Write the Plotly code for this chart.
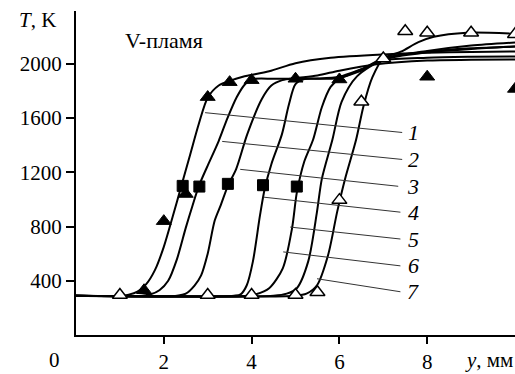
import plotly.graph_objects as go

# ---- curves (calculated temperature profiles) ----
c1_x = [0, 1.0, 1.2, 1.4, 1.6, 1.8, 2.0, 2.2, 2.4, 2.6, 2.8, 3.0, 3.25, 3.5, 3.8, 4.4, 5.0, 5.8, 7.0, 8.0, 9.0, 10.0]
c1_T = [290, 290, 298, 320, 375, 480, 650, 870, 1100, 1330, 1560, 1750, 1840, 1875, 1905, 1945, 2005, 2045, 2070, 2082, 2088, 2092]

c2_x = [0, 1.5, 1.7, 1.9, 2.1, 2.3, 2.5, 2.65, 2.8, 3.0, 3.25, 3.45, 3.66, 3.85, 4.0, 4.5, 5.0, 5.5, 6.0, 6.5, 7.0, 8.0, 9.0, 10.0]
c2_T = [290, 290, 300, 330, 400, 560, 790, 950, 1100, 1250, 1431, 1600, 1754, 1850, 1886, 1890, 1890, 1892, 1905, 1960, 2025, 2045, 2052, 2055]

c3_x = [0, 2.3, 2.5, 2.7, 2.85, 3.0, 3.16, 3.3, 3.46, 3.65, 3.9, 4.23, 4.45, 4.7, 5.0, 5.5, 6.0, 6.8, 8.0, 9.0, 10.0]
c3_T = [290, 290, 305, 365, 440, 600, 844, 960, 1100, 1226, 1480, 1739, 1840, 1880, 1895, 1915, 1950, 1995, 2025, 2030, 2033]

c4_x = [0, 3.6, 3.75, 3.89, 4.03, 4.19, 4.3, 4.45, 4.69, 4.85, 5.0, 5.2, 5.6, 6.0, 6.5, 7.0, 8.0, 9.0, 10.0]
c4_T = [290, 290, 300, 367, 543, 880, 1080, 1260, 1480, 1700, 1850, 1888, 1890, 1895, 1960, 2040, 2090, 2115, 2128]

c5_x = [0, 3.9, 4.1, 4.4, 4.71, 4.92, 5.03, 5.2, 5.4, 5.6, 5.8, 6.0, 6.5, 7.0, 8.0, 9.0, 10.0]
c5_T = [290, 290, 300, 345, 492, 785, 1050, 1280, 1440, 1680, 1830, 1890, 1950, 2040, 2095, 2135, 2158]

c6_x = [0, 4.5, 4.8, 5.03, 5.29, 5.49, 5.6, 5.84, 6.05, 6.4, 7.0, 8.0, 9.0, 10.0]
c6_T = [290, 290, 305, 345, 543, 910, 1152, 1440, 1720, 1908, 2030, 2085, 2110, 2128]

c7_x = [0, 5.0, 5.25, 5.49, 5.74, 5.95, 6.13, 6.38, 6.55, 6.75, 7.0, 7.4, 7.8, 8.15, 8.9, 10.0]
c7_T = [290, 290, 305, 367, 587, 910, 1152, 1440, 1690, 1900, 2040, 2090, 2160, 2200, 2230, 2222]

curves = [(c1_x, c1_T), (c2_x, c2_T), (c3_x, c3_T), (c4_x, c4_T),
          (c5_x, c5_T), (c6_x, c6_T), (c7_x, c7_T)]

# ---- experimental points ----
tri_fill_x = [1.55, 2.0, 2.5, 3.0, 3.5, 4.0, 5.0, 6.0, 8.0, 10.0]
tri_fill_T = [330, 840, 1040, 1755, 1865, 1880, 1890, 1885, 1905, 1815]

sq_x = [2.43, 2.81, 3.46, 4.26, 5.03]
sq_T = [1100, 1095, 1115, 1105, 1095]

tri_open_x = [1.0, 3.0, 4.0, 5.0, 5.5, 6.0, 6.5, 7.0, 7.5, 8.0, 9.0, 10.0]
tri_open_T = [295, 295, 295, 295, 315, 995, 1720, 2040, 2240, 2230, 2230, 2218]

# ---- curve labels and their leader lines ----
curve_labels = ["1", "2", "3", "4", "5", "6", "7"]
leader_start_x = [2.94, 3.33, 3.74, 4.27, 4.88, 4.72, 5.49]
leader_start_T = [1640, 1428, 1222, 1017, 796, 613, 415]
leader_end_x = [7.43, 7.43, 7.34, 7.39, 7.39, 7.39, 7.39]
leader_end_T = [1494, 1295, 1097, 906, 708, 510, 319]
label_x = 7.68

x_ticks = [2, 4, 6, 8]
y_ticks = [400, 800, 1200, 1600, 2000]

SERIF = "Liberation Serif, Times New Roman, serif"

fig = go.Figure()

for cx, cT in curves:
    fig.add_trace(go.Scatter(x=cx, y=cT, mode="lines",
                             line=dict(color="black", width=2, shape="spline", smoothing=0.8),
                             showlegend=False, hoverinfo="skip"))

for sx, sT, ex, eT in zip(leader_start_x, leader_start_T, leader_end_x, leader_end_T):
    fig.add_trace(go.Scatter(x=[sx, ex], y=[sT, eT], mode="lines",
                             line=dict(color="#333333", width=1),
                             showlegend=False, hoverinfo="skip"))

fig.add_trace(go.Scatter(x=tri_fill_x, y=tri_fill_T, mode="markers",
                         marker=dict(symbol="triangle-up", size=13, color="black",
                                     line=dict(color="black", width=1)),
                         showlegend=False))
fig.add_trace(go.Scatter(x=sq_x, y=sq_T, mode="markers",
                         marker=dict(symbol="square", size=11, color="black",
                                     line=dict(color="black", width=1)),
                         showlegend=False))
fig.add_trace(go.Scatter(x=tri_open_x, y=tri_open_T, mode="markers",
                         marker=dict(symbol="triangle-up", size=13, color="white",
                                     line=dict(color="black", width=1.5)),
                         showlegend=False))

annotations = []
for lab, eT in zip(curve_labels, leader_end_T):
    annotations.append(dict(x=label_x, y=eT, xref="x", yref="y", text=f"<i>{lab}</i>",
                            showarrow=False, font=dict(family=SERIF, size=22, color="black"),
                            xanchor="center", yanchor="middle"))
annotations += [
    dict(x=2.0, y=2176, xref="x", yref="y", text="V-пламя", showarrow=False,
         font=dict(family=SERIF, size=22, color="black"), xanchor="center", yanchor="middle"),
    dict(x=0, y=1, xref="x", yref="paper", text="<i>T</i>, K", showarrow=False,
         font=dict(family=SERIF, size=21, color="black"), xanchor="right", yanchor="middle",
         xshift=-18, yshift=-9),
    dict(x=10, y=0, xref="x", yref="y", text="<i>y</i>, мм", showarrow=False,
         font=dict(family=SERIF, size=21, color="black"), xanchor="right", yanchor="middle",
         yshift=-25),
    dict(x=0, y=0, xref="x", yref="y", text="0", showarrow=False,
         font=dict(family=SERIF, size=21, color="black"), xanchor="center", yanchor="middle",
         xshift=-22, yshift=-25),
]

fig.update_layout(
    width=515, height=374,
    margin=dict(l=76, r=0, t=11, b=37),
    paper_bgcolor="white", plot_bgcolor="white",
    annotations=annotations,
    font=dict(family=SERIF, size=21, color="black"),
)
fig.update_xaxes(range=[0, 10], tickvals=x_ticks, ticks="outside", ticklen=7, tickwidth=1.5,
                 tickcolor="black", showline=True, linecolor="black", linewidth=2,
                 showgrid=False, zeroline=False, tickfont=dict(family=SERIF, size=21))
fig.update_yaxes(range=[0, 2390], tickvals=y_ticks, ticks="outside", ticklen=8, tickwidth=1.5,
                 tickcolor="black", showline=True, linecolor="black", linewidth=2,
                 showgrid=False, zeroline=False, tickfont=dict(family=SERIF, size=21))

fig.write_html("out.html")
